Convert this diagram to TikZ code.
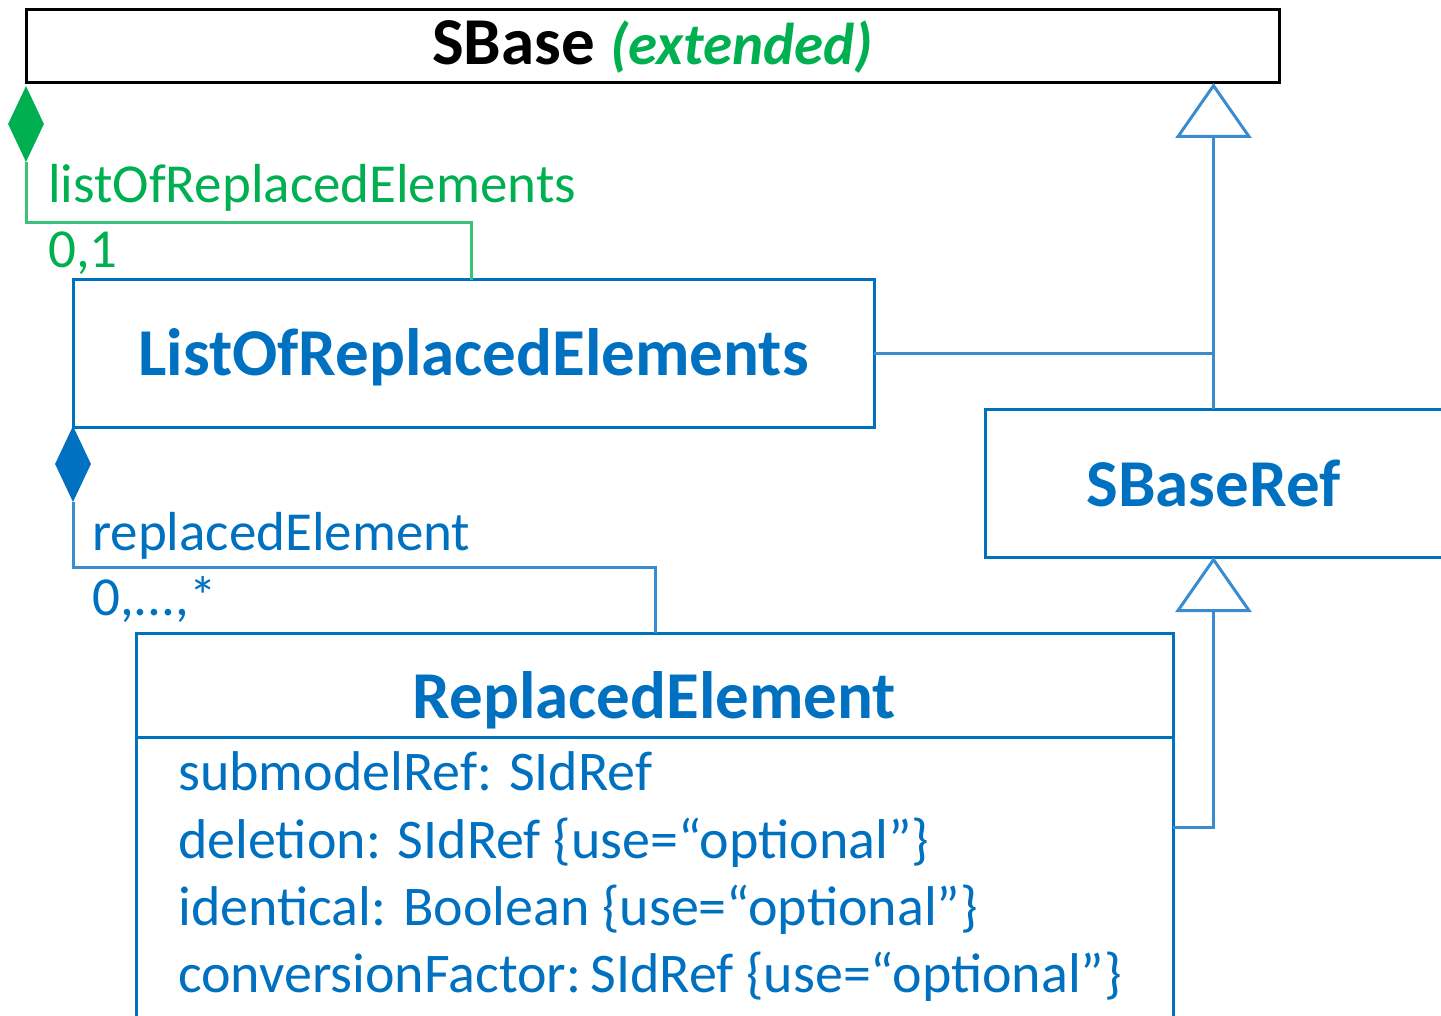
\documentclass[tikz,border=0pt]{standalone}
\usepackage{fontspec}
\setmainfont{Carlito}
\usetikzlibrary{shapes.geometric, arrows.meta}

\definecolor{umlblue}{HTML}{0070C0}
\definecolor{umlgreen}{HTML}{00B050}
\definecolor{linkblue}{HTML}{3A8CD0}
\definecolor{linkgreen}{HTML}{3CC07A}

\tikzset{
    classbox/.style={draw=umlblue, line width=3pt, inner sep=0pt, outer sep=0pt, text=umlblue,
        font=\fontsize{67}{80}\selectfont\bfseries},
    rolelabel/.style={anchor=base west, inner sep=0pt, font=\fontsize{55}{66}\selectfont},
    attrline/.style={anchor=base west, inner sep=0pt, text=umlblue, font=\fontsize{56}{66}\selectfont},
    compdiamond/.style={diamond, inner sep=0pt, minimum width=36pt, minimum height=76pt},
    genarrow/.style={draw=linkblue, line width=3pt, -{Triangle[open, length=55pt, width=76pt, line width=3pt]}},
}

\begin{document}
\begin{tikzpicture}[x=1pt, y=-1pt]
    \useasboundingbox (0, 0) rectangle (1441, 1016);

    % classes
    \node[classbox, draw=black, text=black, minimum width=1253pt, minimum height=73pt] (sbase)
        at (652.5, 46.5) {SBase {\fontsize{59}{70}\selectfont\textcolor{umlgreen}{\textit{(extended)}}}};
    \node[classbox, minimum width=801pt, minimum height=147pt, text height=45pt, text depth=0pt] (loe)
        at (473.5, 353.5) {ListOfReplacedElements};
    \node[classbox, minimum width=457pt, minimum height=148pt] (sbref)
        at (1213.5, 483) {SBaseRef};
    \node[classbox, minimum width=1037pt, minimum height=104pt, text height=66pt, text depth=0pt] (re)
        at (654.5, 685) {ReplacedElement};
    \node[classbox, minimum width=1037pt, minimum height=300pt, anchor=north] (reattr)
        at (re.south) {};

    % attributes
    \node[attrline] (attr1) at (178, 790) {submodelRef: SIdRef};
    \node[attrline] (attr2) at (178, 858) {deletion: SIdRef \{use=“optional”\}};
    \node[attrline] (attr3) at (178, 925) {identical: Boolean \{use=“optional”\}};
    \node[attrline] (attr4) at (178, 992) {conversionFactor:\,SIdRef \{use=“optional”\}};

    % composition sbase -> listOfReplacedElements
    \node[compdiamond, fill=umlgreen] (gdia) at (26, 124) {};
    \coordinate (gturn) at (471, 223);
    \draw[linkgreen, line width=3pt] (gdia.south) |- (gturn) -- (gturn |- loe.north);
    \node[rolelabel, text=umlgreen] (glabel) at (48, 203) {listOfReplacedElements};
    \node[rolelabel, text=umlgreen] (gmult) at (48, 268) {0,1};

    % composition listOfReplacedElements -> replacedElement
    \node[compdiamond, fill=umlblue] (bdia) at (73, 464) {};
    \coordinate (bturn) at (655, 567);
    \draw[linkblue, line width=3pt] (bdia.south) |- (bturn) -- (bturn |- re.north);
    \node[rolelabel, text=umlblue] (blabel) at (92, 550) {replacedElement};
    \node[rolelabel, text=umlblue] (bmult) at (92, 615) {0,...,*};

    % inheritance
    \draw[genarrow] (sbref.north) -- (sbref.north |- sbase.south);
    \draw[linkblue, line width=3pt] (loe.east) -- (loe.east -| sbref.north);
    \draw[genarrow] (reattr.east |- 0, 827) -| (sbref.south);
\end{tikzpicture}
\end{document}
